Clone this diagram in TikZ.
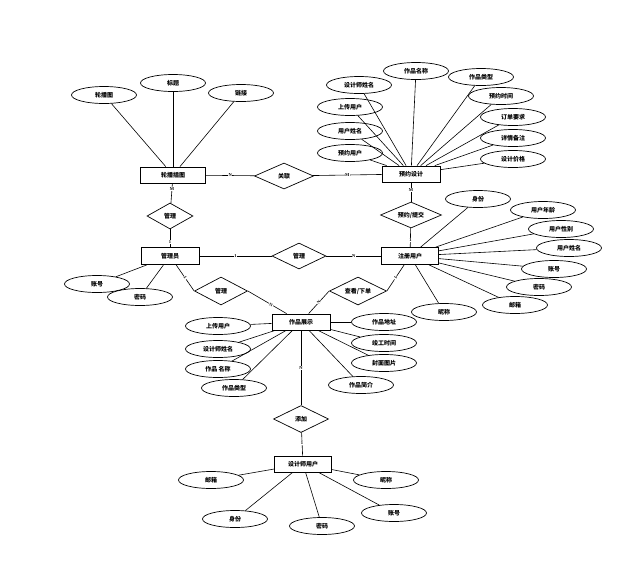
\documentclass[tikz,border=0pt]{standalone}
\usepackage{fontspec}
\setmainfont{Noto Sans CJK SC}
\newfontfamily\cardfont{Liberation Serif}
\usetikzlibrary{shapes.geometric}
\begin{document}
\begin{tikzpicture}[x=1pt,y=-1pt,
  every node/.style={font=\bfseries\fontsize{6}{7}\selectfont},
  ent/.style={draw,line width=0.8pt,rectangle,minimum width=58pt,minimum height=16pt,inner sep=0pt},
  attr/.style={draw,line width=0.7pt,ellipse,minimum width=65pt,minimum height=17pt,inner sep=0pt},
  rel/.style={draw,line width=0.7pt,diamond,aspect=2.2,inner sep=0pt,minimum width=55pt,minimum height=27pt},
  ln/.style={line width=0.6pt},
  card/.style={font=\cardfont\bfseries\fontsize{4.5}{5}\selectfont,inner sep=0.5pt,fill=white}]
\useasboundingbox (0,0) rectangle (627,571);

% entities
\node[ent,minimum width=65pt] (lb) at (173,175) {轮播插图};
\node[ent] (yy) at (411,174) {预约设计};
\node[ent,minimum height=17pt] (gl) at (170,256) {管理员};
\node[ent,minimum height=17pt,minimum width=57pt] (zc) at (410,256) {注册用户};
\node[ent] (zp) at (301,322) {作品展示};
\node[ent,minimum width=57pt] (sj) at (303,464) {设计师用户};

% relations
\node[rel,minimum width=46pt,minimum height=26pt] (r1) at (170,216) {管理};
\node[rel,minimum width=59pt,minimum height=26pt] (r2) at (284,176) {关联};
\node[rel,minimum width=61pt,minimum height=26pt] (r3) at (411,215) {预约/提交};
\node[rel,minimum width=54pt,minimum height=26pt] (r4) at (299,256) {管理};
\node[rel,minimum width=53pt,minimum height=28pt] (r5) at (221,291) {管理};
\node[rel,minimum width=57pt,minimum height=28pt] (r6) at (358,291) {查看/下单};
\node[rel,minimum width=55pt,minimum height=27pt] (r7) at (301,419) {添加};

% attributes of 轮播插图
\node[attr] (a1) at (104,95) {轮播图};
\node[attr] (a2) at (173,83) {标题};
\node[attr] (a3) at (241,93) {链接};
\foreach \a in {a1,a2,a3} \draw[ln] (\a) -- (lb);

% attributes of 预约设计
\node[attr] (b1) at (359,85) {设计师姓名};
\node[attr] (b2) at (416,71) {作品名称};
\node[attr] (b3) at (481,77) {作品类型};
\node[attr] (b4) at (350,107) {上传用户};
\node[attr] (b5) at (501,96) {预约时间};
\node[attr] (b6) at (350,131) {用户姓名};
\node[attr] (b7) at (513,117) {订单要求};
\node[attr] (b8) at (350,153) {预约用户};
\node[attr] (b9) at (513,138) {详情备注};
\node[attr] (b10) at (513,159) {设计价格};
\foreach \a in {b1,b2,b3,b4,b5,b6,b7,b8,b9,b10} \draw[ln] (\a) -- (yy);

% attributes of 注册用户
\node[attr] (c1) at (478,199) {身份};
\node[attr] (c2) at (543,210) {用户年龄};
\node[attr] (c3) at (561,229) {用户性别};
\node[attr] (c4) at (569,248) {用户姓名};
\node[attr] (c5) at (554,269) {账号};
\node[attr] (c6) at (539,287) {密码};
\node[attr] (c7) at (515,305) {邮箱};
\node[attr] (c8) at (444,312) {昵称};
\foreach \a in {c1,c2,c3,c4,c5,c6,c7,c8} \draw[ln] (\a) -- (zc);

% attributes of 管理员
\node[attr] (d1) at (97,284) {账号};
\node[attr] (d2) at (140,297) {密码};
\foreach \a in {d1,d2} \draw[ln] (\a) -- (gl);

% attributes of 作品展示
\node[attr] (e1) at (218,326) {上传用户};
\node[attr] (e2) at (218,349) {设计师姓名};
\node[attr] (e3) at (218,369) {作品 名称};
\node[attr] (e4) at (234,388) {作品类型};
\node[attr] (e5) at (384,322) {作品地址};
\node[attr] (e6) at (384,343) {竣工时间};
\node[attr] (e7) at (384,363) {封面图片};
\node[attr] (e8) at (361,385) {作品简介};
\foreach \a in {e1,e2,e3,e4,e5,e6,e7,e8} \draw[ln] (\a) -- (zp);

% attributes of 设计师用户
\node[attr] (f1) at (211,480) {邮箱};
\node[attr] (f2) at (386,480) {昵称};
\node[attr] (f3) at (235,519) {身份};
\node[attr] (f4) at (322,526) {密码};
\node[attr] (f5) at (394,513) {账号};
\foreach \a in {f1,f2,f3,f4,f5} \draw[ln] (\a) -- (sj);

% relationship connectors with cardinalities
\draw[ln] (lb) -- node[card,pos=0.3]{M} (r1);
\draw[ln] (r1) -- node[card,pos=0.7]{1} (gl);
\draw[ln] (lb) -- node[card,pos=0.5]{N} (r2);
\draw[ln] (r2) -- node[card,pos=0.5]{M} (yy);
\draw[ln] (yy) -- node[card,pos=0.4]{M} (r3);
\draw[ln] (r3) -- node[card,pos=0.6]{1} (zc);
\draw[ln] (gl) -- node[card,pos=0.5]{1} (r4);
\draw[ln] (r4) -- node[card,pos=0.5]{N} (zc);
\draw[ln] (gl) -- node[card,pos=0.5,sloped]{1} (r5.west);
\draw[ln] (r5.east) -- node[card,pos=0.6,sloped]{N} (zp);
\draw[ln] (zp) -- node[card,pos=0.5,sloped]{N} (r6.west);
\draw[ln] (r6.east) -- node[card,pos=0.5,sloped]{1} (zc);
\draw[ln] (zp) -- node[card,pos=0.5]{N} (r7);
\draw[ln] (r7) -- node[card,pos=0.45]{1} (sj);
\end{tikzpicture}
\end{document}
